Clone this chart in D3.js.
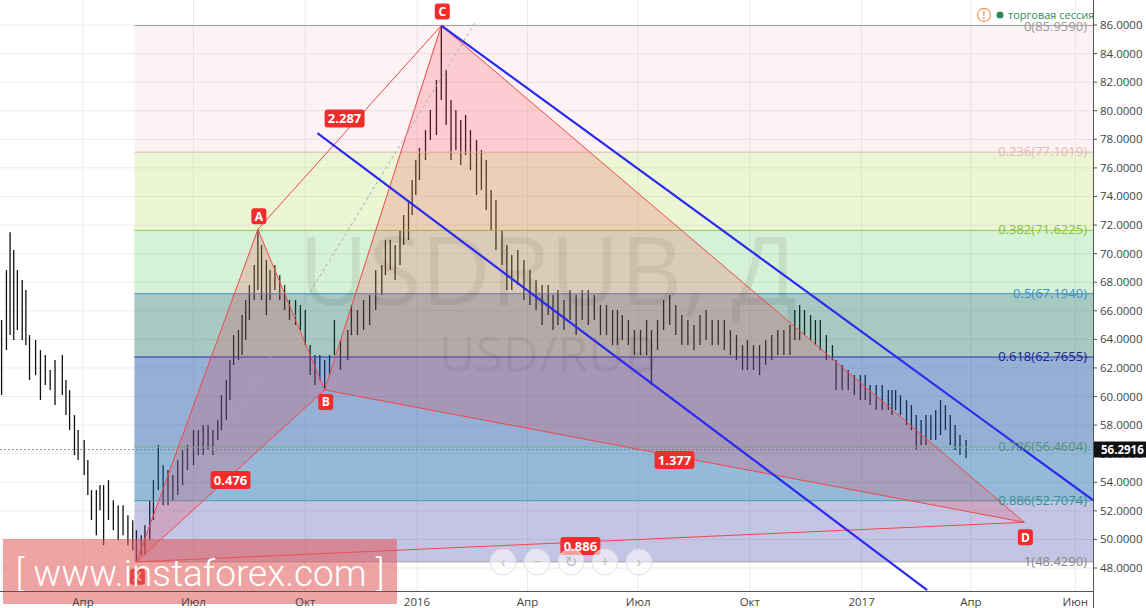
<!DOCTYPE html>
<html><head><meta charset="utf-8">
<script src="https://cdn.jsdelivr.net/npm/d3@7"></script>
<style>body{margin:0;background:#fff}svg{display:block;font-family:"Open Sans","DejaVu Sans",sans-serif}</style>
</head><body><svg id="c" width="1146" height="608"></svg>
<script>
// ---- data (days since 2015-01-01, prices) ----
const barDays=[23,27,30,33,36,40,43,46,51,55,59,63,67,73,76,79,83,86,91,94,97,101,104,107,111,115,119,123,127,131,134,138,141,145,148,152,156,160,164,168,172,176,181,185,189,193,197,201,204,208,211,214,218,221,224,227,231,234,237,241,244,248,252,256,260,265,269,273,277,281,285,289,293,297,302,308,311,316,321,326,331,336,339,343,347,351,354,358,361,364,367,372,376,381,385,389,393,397,401,405,409,414,418,422,426,430,435,439,443,448,453,458,463,468,473,477,481,486,491,496,501,506,511,516,521,526,530,534,539,544,549,554,558,563,568,573,578,583,588,593,598,603,608,613,618,623,628,633,637,642,647,652,657,662,667,672,676,680,684,689,693,697,702,707,710,715,720,725,730,734,738,743,748,753,756,759,763,768,772,776,780,784,788,792,796,800,804,808,812,817];
const barHigh=[65.35,68.85,71.5,70.25,68.85,68.15,67.45,64.3,63.95,63.25,62.9,61.85,62.55,62.9,61.15,60.45,58.7,57.65,56.95,55.55,53.45,53.45,53.8,53.8,54.15,52.75,52.4,52.4,51.7,51.35,50.65,50.3,51.0,52.75,54.15,56.6,55.2,54.85,54.5,55.55,56.25,56.6,57.65,57.65,58.0,58.0,57.65,58.35,60.1,61.15,62.55,64.3,64.65,65.7,66.75,67.8,69.2,71.7,70.6,69.55,68.85,69.2,68.5,67.8,66.75,66.75,66.4,66.05,63.6,62.9,62.9,62.55,62.9,65.35,63.95,64.65,66.4,66.05,66.75,67.1,68.85,69.2,70.95,70.95,70.6,71.65,72.7,73.75,75.15,76.55,77.4,78.65,80.05,82.15,85.96,82.85,80.75,80.05,79.35,79.7,78.65,77.95,77.25,76.55,74.45,73.75,71.65,70.6,69.9,70.25,69.55,68.85,68.15,67.8,67.8,67.1,67.45,66.75,67.45,67.1,67.45,67.45,67.1,66.4,66.4,66.05,66.05,65.7,65.35,64.65,64.65,65.35,64.65,65.35,66.75,67.1,66.4,65.7,65.35,65.0,65.7,66.05,65.35,65.35,65.35,64.65,64.3,63.6,63.95,63.6,63.6,63.95,64.3,64.65,64.65,65.0,66.05,66.4,66.05,65.7,65.35,65.35,64.3,63.6,62.55,62.2,61.85,61.5,61.5,61.5,60.8,60.8,60.8,60.45,60.45,60.45,60.1,59.75,59.4,58.7,58.35,58.7,58.7,59.05,59.75,59.4,58.7,58.0,57.3,56.95];
const barLow=[60.1,63.25,64.3,63.95,64.65,63.95,63.6,61.15,61.5,59.75,60.8,60.45,59.4,60.1,58.7,57.65,55.9,55.55,54.5,53.1,51.35,50.3,52.05,49.6,51.35,50.65,49.95,50.3,49.6,49.25,48.43,48.9,48.9,49.95,51.35,53.45,52.4,52.4,52.75,53.1,53.8,54.85,55.2,55.9,55.9,56.25,55.9,56.95,57.65,58.35,59.75,62.2,62.55,62.9,63.95,65.35,66.75,67.45,66.75,65.7,66.75,67.45,66.75,66.05,65.35,65.0,64.65,63.6,61.5,60.8,61.15,60.45,61.5,62.9,61.85,62.55,64.3,64.3,64.65,65.0,66.05,67.1,68.5,68.85,68.15,69.2,70.6,70.95,72.7,74.1,75.15,76.55,77.95,78.3,80.75,79.0,76.55,77.25,76.2,76.9,75.85,74.1,74.45,73.05,71.65,70.25,69.2,67.45,67.45,67.8,66.75,66.4,66.05,65.0,65.7,64.65,65.0,64.65,65.35,64.3,65.35,65.0,65.35,64.3,64.3,63.6,63.6,63.95,63.6,62.9,62.9,62.9,60.8,63.25,64.65,65.0,64.3,63.6,63.6,63.25,63.6,63.95,63.6,63.6,63.25,62.9,62.55,61.85,61.85,61.85,61.5,62.2,62.55,62.9,62.9,62.9,63.95,63.95,64.3,63.95,63.6,63.25,62.55,62.55,60.45,60.45,60.45,60.1,59.75,59.75,59.4,59.05,59.05,59.05,58.7,59.05,58.7,58.0,57.65,56.25,56.6,56.6,56.95,56.95,57.3,57.65,56.6,56.25,55.9,55.7];
const lastPrice=56.2916;
const fibLevels=[0,0.236,0.382,0.5,0.618,0.786,0.886,1];
const fibValues=[85.959,77.1019,71.6225,67.194,62.7655,56.4604,52.7074,48.429];
const patternNames=["X","A","B","C","D"];
const patternDays=[134,234,289,385,865];
const patternValues=[48.429,71.7,60.46,85.959,51.2];
const ratioLabels=["0.476","2.287","1.377","0.886"];
const channelUpperDays=[385,921.5], channelUpperValues=[85.959,52.75];
const channelLowerDays=[283,785], channelLowerValues=[78.44,46.46];
const guideDays=[143,413], guideValues=[48.7,86.2];
const yTicks=d3.range(48,86.01,2);
const monthTickDates=["2015-04-01","2015-07-01","2015-10-01","2016-01-01","2016-04-01","2016-07-01","2016-10-01","2017-01-01","2017-04-01","2017-06-26"];
const monthTickLabels=["Апр","Июл","Окт","2016","Апр","Июл","Окт","2017","Апр","Июн"];

// ---- scales ----
const base=Date.UTC(2015,0,1), DAY=864e5;
const toDate=d=>new Date(base+d*DAY);
const W=1146,H=608, plotR=1093, axisY=591;
const x=d3.scaleTime().domain([toDate(21.7),toDate(921.5)]).range([0,plotR]);
const y=d3.scaleLinear().domain([48,86]).range([568,25]);
const svg=d3.select("#c");
const X=d=>x(toDate(d));

svg.append("rect").attr("width",W).attr("height",H).attr("fill","#fff");
svg.append("defs").append("clipPath").attr("id","pc").append("rect").attr("width",plotR).attr("height",axisY);
const g=svg.append("g").attr("clip-path","url(#pc)");

g.selectAll(".hg").data(yTicks).join("line").attr("x1",0).attr("x2",plotR).attr("y1",d=>y(d)).attr("y2",d=>y(d)).attr("stroke","#ececec");
g.selectAll(".vg").data(monthTickDates).join("line").attr("y1",0).attr("y2",axisY).attr("x1",d=>x(new Date(d))).attr("x2",d=>x(new Date(d))).attr("stroke","#ececec");

g.selectAll(".bar").data(barDays).join("line").attr("x1",d=>X(d)).attr("x2",d=>X(d))
 .attr("y1",(d,i)=>y(barHigh[i])).attr("y2",(d,i)=>y(barLow[i])).attr("stroke","#111").attr("stroke-width",1.3);

const bandFill=["rgba(242,54,69,0.06)","rgba(170,210,60,0.22)","rgba(76,200,76,0.23)","rgba(0,100,80,0.35)","rgba(20,80,160,0.45)","rgba(20,100,170,0.45)","rgba(60,60,170,0.3)"];
const lineCol=["#a0a0a0","#e2b4b4","#8cd048","#4090b8","#2c2cb0","#70b090","#40a0a0","#a0a0a0"];
const labCol=["#999","#e4b8b8","#88c040","#3a8fc8","#1e1e8c","#4f9488","#3f8f9c","#888"];
const fx0=X(patternDays[0])-2;
g.selectAll(".band").data(fibValues.slice(0,-1)).join("rect").attr("x",fx0).attr("width",plotR-fx0)
 .attr("y",d=>y(d)).attr("height",(d,i)=>y(fibValues[i+1])-y(d)).attr("fill",(d,i)=>bandFill[i]);
g.selectAll(".fl").data(fibValues).join("line").attr("x1",fx0).attr("x2",plotR).attr("y1",d=>y(d)).attr("y2",d=>y(d)).attr("stroke",(d,i)=>lineCol[i]);
svg.selectAll(".ftxt").data(fibValues).join("text").attr("x",1087).attr("y",(d,i)=>y(d)+(i==0?5:4)).attr("text-anchor","end")
 .attr("font-size",13).attr("fill",(d,i)=>labCol[i]).text((d,i)=>fibLevels[i]+"("+d.toFixed(4)+")");

g.append("line").attr("x1",0).attr("x2",plotR).attr("y1",y(lastPrice)).attr("y2",y(lastPrice)).attr("stroke","#777").attr("stroke-dasharray","2,2").attr("stroke-width",0.8);

g.append("text").attr("x",548).attr("y",305).attr("text-anchor","middle").attr("font-size",96).attr("fill","rgba(0,0,0,0.07)").text("USDRUB, Д");
g.append("text").attr("x",548).attr("y",372).attr("text-anchor","middle").attr("font-size",50).attr("fill","rgba(0,0,0,0.07)").text("USD/RUB");

const P=patternDays.map((d,i)=>[X(d),y(patternValues[i])]);
const tri=[[P[0],P[1],P[2]],[P[2],P[3],P[4]]];
g.selectAll(".tri").data(tri).join("path").attr("d",d=>"M"+d.join("L")+"Z").attr("fill","rgba(242,54,69,0.2)").attr("stroke","#f04848").attr("stroke-width",1);
const segs=[[P[0],P[4]],[P[1],P[3]]];
g.selectAll(".seg").data(segs).join("line").attr("x1",d=>d[0][0]).attr("y1",d=>d[0][1]).attr("x2",d=>d[1][0]).attr("y2",d=>d[1][1]).attr("stroke","#f04848");
g.append("line").attr("x1",X(guideDays[0])).attr("y1",y(guideValues[0])).attr("x2",X(guideDays[1])).attr("y2",y(guideValues[1])).attr("stroke","#aaa").attr("stroke-dasharray","3,3");

[[channelUpperDays,channelUpperValues],[channelLowerDays,channelLowerValues]].forEach(([dd,vv])=>{
 g.append("line").attr("x1",X(dd[0])).attr("y1",y(vv[0])).attr("x2",X(dd[1])).attr("y2",y(vv[1])).attr("stroke","#2a2af0").attr("stroke-width",2.2);
});

function tag(cx,cy,txt,w,h,fs){
 const t=svg.append("g");
 t.append("rect").attr("x",cx-w/2).attr("y",cy-h/2).attr("width",w).attr("height",h).attr("rx",3).attr("fill","#f22b2b");
 t.append("text").attr("x",cx).attr("y",cy+fs*0.36).attr("text-anchor","middle").attr("font-size",fs).attr("font-weight","bold").attr("fill","#fff").text(txt);
}
const mids=[[P[0],P[2]],[P[1],P[3]],[P[2],P[4]],[P[0],P[4]]];
mids.forEach((m,i)=>{
 let cx=(m[0][0]+m[1][0])/2, cy=(m[0][1]+m[1][1])/2;
 if(i==1){cx-=5;cy-=13;}
 tag(cx,cy+4,ratioLabels[i],40,18,13);
});
const off=[15,-13,12,-14,15];
P.forEach((p,i)=>tag(p[0]+1,p[1]+off[i],patternNames[i],15,16,12));

svg.append("rect").attr("x",3).attr("y",539).attr("width",394).attr("height",65).attr("fill","rgba(225,90,90,0.55)");
svg.append("text").attr("x",200).attr("y",586).attr("text-anchor","middle").attr("font-size",37).attr("fill","#fff").attr("font-family","Roboto, sans-serif").attr("font-weight",300).text("[ www.instaforex.com ]");

const btns=["‹","−","↻","+","›"];
btns.forEach((b,i)=>{const cx=503+i*34;
 svg.append("circle").attr("cx",cx).attr("cy",562).attr("r",13).attr("fill","rgba(255,255,255,0.55)").attr("stroke","#ddd");
 svg.append("text").attr("x",cx).attr("y",567).attr("text-anchor","middle").attr("font-size",15).attr("fill","#bbb").text(b);
});

svg.append("line").attr("x1",plotR+0.5).attr("x2",plotR+0.5).attr("y1",0).attr("y2",H).attr("stroke","#555");
svg.append("line").attr("x1",0).attr("x2",plotR).attr("y1",axisY+0.5).attr("y2",axisY+0.5).attr("stroke","#555");
svg.selectAll(".yl").data(yTicks).join("text").attr("x",1100).attr("y",d=>y(d)+4).attr("font-size",11.5).attr("fill","#444").text(d=>d.toFixed(4));
svg.selectAll(".yt").data(yTicks).join("line").attr("x1",plotR).attr("x2",plotR+4).attr("y1",d=>y(d)).attr("y2",d=>y(d)).attr("stroke","#555");
svg.selectAll(".xl").data(monthTickDates).join("text").attr("x",d=>x(new Date(d))).attr("y",606).attr("text-anchor","middle").attr("font-size",11.5).attr("fill","#444").text((d,i)=>monthTickLabels[i]);
svg.append("rect").attr("x",plotR+1).attr("y",y(lastPrice)-8).attr("width",W-plotR-1).attr("height",16).attr("fill","#111");
svg.append("text").attr("x",1101).attr("y",y(lastPrice)+4.5).attr("font-size",11.5).attr("font-weight","bold").attr("fill","#fff").text(lastPrice.toFixed(4));

svg.append("circle").attr("cx",984).attr("cy",15).attr("r",6.5).attr("fill","#fff").attr("stroke","#f5a060").attr("stroke-width",1.3);
svg.append("text").attr("x",984).attr("y",19).attr("text-anchor","middle").attr("font-size",10).attr("font-weight","bold").attr("fill","#f5a060").text("!");
svg.append("circle").attr("cx",1000).attr("cy",15).attr("r",3.5).attr("fill","#2e8b57");
svg.append("text").attr("x",1008).attr("y",19).attr("font-size",11).attr("fill","#2e8b57").text("торговая сессия");
</script></body></html>
